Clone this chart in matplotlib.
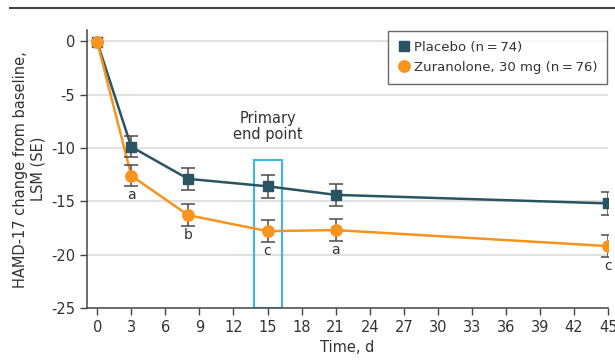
import matplotlib.pyplot as plt
from matplotlib.lines import Line2D
from matplotlib.patches import Rectangle

plt.rcParams['font.family'] = ['Liberation Sans Narrow', 'DejaVu Sans']

days = [0, 3, 8, 15, 21, 45]
placebo = [-0.1, -9.9, -12.9, -13.6, -14.4, -15.2]
placebo_se = [0.0, 1.0, 1.05, 1.05, 1.05, 1.05]
zuranolone = [-0.1, -12.6, -16.3, -17.8, -17.7, -19.2]
zuranolone_se = [0.0, 1.0, 1.0, 1.05, 1.05, 1.0]
sig_labels = ['', 'a', 'b', 'c', 'a', 'c']

xticks = list(range(0, 46, 3))
yticks = [0, -5, -10, -15, -20, -25]

teal = '#2a5364'
orange = '#f7941d'
bar_col = '#4a4a4a'
txt = '#333333'

fig = plt.figure(figsize=(6.15, 3.6), dpi=100)
ax = fig.add_axes([0.1415, 0.1444, 0.8473, 0.771])

for v in yticks[:-1]:
    ax.axhline(v, color='#dcdcdc', lw=1.2, zorder=0)

ax.add_patch(Rectangle((13.8, -25), 2.5, 13.9, fill=False, edgecolor='#3bb8e8', lw=1.5, zorder=1))
ax.text(15, -8.0, 'Primary\nend point', ha='center', va='center', fontsize=10.5, color=txt, linespacing=1.1)

ax.plot(days, placebo, color=teal, lw=1.8, zorder=2)
ax.plot(days, zuranolone, color=orange, lw=1.8, zorder=2)
ax.errorbar(days[1:], placebo[1:], yerr=placebo_se[1:], fmt='none', ecolor=bar_col, elinewidth=1.1, capsize=5, capthick=1.1, zorder=3)
ax.errorbar(days[1:], zuranolone[1:], yerr=zuranolone_se[1:], fmt='none', ecolor=bar_col, elinewidth=1.1, capsize=5, capthick=1.1, zorder=3)
ax.plot(days, placebo, 's', color=teal, ms=7.8, zorder=4, label='Placebo (n\u2009=\u200974)')
ax.plot(days, zuranolone, 'o', color=orange, ms=8.2, zorder=5, label='Zuranolone, 30 mg (n\u2009=\u200976)')

for d, z, se, lab in zip(days, zuranolone, zuranolone_se, sig_labels):
    if lab:
        ax.text(d, z - se - 0.2, lab, ha='center', va='top', fontsize=10, color=txt)

ax.set_xlim(-0.9, 45)
ax.set_ylim(-25, 1)
ax.set_xticks(xticks)
ax.set_yticks(yticks)
ax.set_yticklabels([str(v) for v in yticks])
ax.tick_params(axis='both', labelsize=10.5, colors=txt, length=5, width=1, direction='out')
ax.tick_params(axis='both', color='#444444')
for s in ['top', 'right']:
    ax.spines[s].set_visible(False)
for s in ['left', 'bottom']:
    ax.spines[s].set_color('#444444')
    ax.spines[s].set_linewidth(1.1)

ax.set_xlabel('Time, d', fontsize=10.5, color=txt, labelpad=4)
ax.set_ylabel('HAMD-17 change from baseline,\nLSM (SE)', fontsize=10.5, color=txt, labelpad=4)

leg = ax.legend(loc='upper right', bbox_to_anchor=(1.0, 1.0), fontsize=9.5, frameon=True, fancybox=False,
                handlelength=0.8, handletextpad=0.4, borderpad=0.75, labelspacing=0.5, borderaxespad=0.05)
leg.get_frame().set_edgecolor('#444444')
leg.get_frame().set_linewidth(1.0)
for t in leg.get_texts():
    t.set_color(txt)

fig.add_artist(Line2D([0.016, 1.0], [0.978, 0.978], color='#444444', lw=1.5))

fig.savefig('out.png', dpi=100)
